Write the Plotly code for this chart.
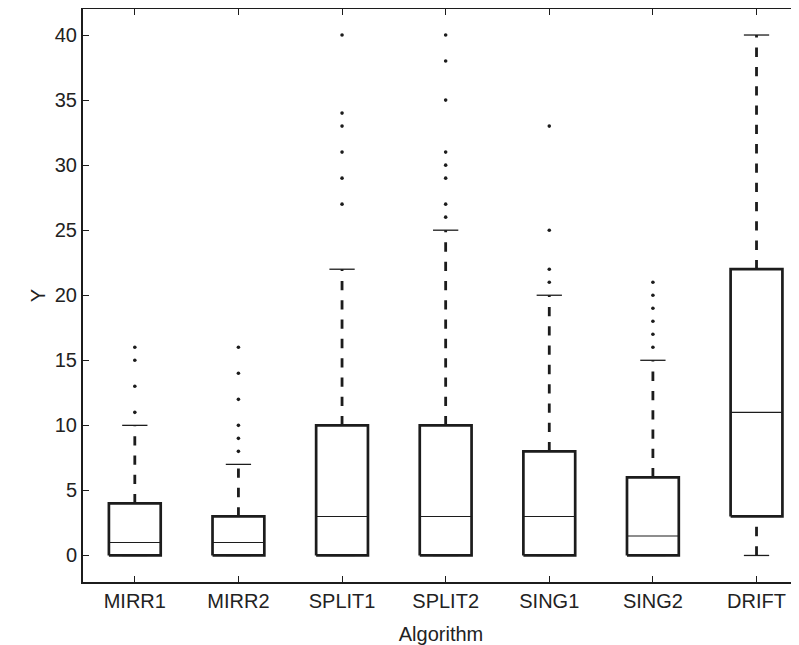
import plotly.graph_objects as go

categories = ["MIRR1", "MIRR2", "SPLIT1", "SPLIT2", "SING1", "SING2", "DRIFT"]
lower_whisker = [0, 0, 0, 0, 0, 0, 0]
q1 = [0, 0, 0, 0, 0, 0, 3]
median = [1, 1, 3, 3, 3, 1.5, 11]
q3 = [4, 3, 10, 10, 8, 6, 22]
upper_whisker = [10, 7, 22, 25, 20, 15, 40]
outliers = [
    [11, 13, 15, 16],
    [8, 9, 10, 12, 14, 16],
    [27, 29, 31, 33, 34, 40],
    [26, 27, 29, 30, 31, 35, 38, 40],
    [21, 22, 25, 33],
    [16, 17, 18, 19, 20, 21],
    [],
]
y_ticks = [0, 5, 10, 15, 20, 25, 30, 35, 40]

BOX_HW = 0.25
CAP_HW = 0.122
INK = "#1c1c1c"

pos = list(range(1, len(categories) + 1))

wx, wy = [], []
bx, by = [], []
mx, my = [], []
cx, cy = [], []
ox, oy = [], []
for p, lo, a, m, b, hi, outs in zip(pos, lower_whisker, q1, median, q3, upper_whisker, outliers):
    wx += [p, p, None]
    wy += [b, hi, None]
    if lo < a:
        wx += [p, p, None]
        wy += [lo, a, None]
    bx += [p - BOX_HW, p + BOX_HW, p + BOX_HW, p - BOX_HW, p - BOX_HW, None]
    by += [a, a, b, b, a, None]
    mx += [p - BOX_HW, p + BOX_HW, None]
    my += [m, m, None]
    cx += [p - CAP_HW, p + CAP_HW, None, p - CAP_HW, p + CAP_HW, None]
    cy += [hi, hi, None, lo, lo, None]
    for o in outs:
        ox.append(p)
        oy.append(o)

fig = go.Figure()
fig.add_trace(go.Scatter(x=wx, y=wy, mode="lines",
                         line=dict(color=INK, width=2.8, dash="9.3px,10px"),
                         hoverinfo="skip", showlegend=False))
fig.add_trace(go.Scatter(x=cx, y=cy, mode="lines",
                         line=dict(color=INK, width=1.3),
                         hoverinfo="skip", showlegend=False))
fig.add_trace(go.Scatter(x=bx, y=by, mode="lines",
                         line=dict(color=INK, width=2.7),
                         hoverinfo="skip", showlegend=False))
fig.add_trace(go.Scatter(x=mx, y=my, mode="lines",
                         line=dict(color=INK, width=1.1),
                         hoverinfo="skip", showlegend=False))
fig.add_trace(go.Scatter(x=ox, y=oy, mode="markers",
                         marker=dict(color=INK, size=3.6, symbol="circle"),
                         hoverinfo="skip", showlegend=False))

font = dict(family="Liberation Sans, Arial, Helvetica, sans-serif", size=20, color="#222222")

# page body has an 8px default margin; the figure is sized to compensate
fig.update_layout(
    width=791, height=637,
    margin=dict(l=75, r=0, t=1, b=63),
    paper_bgcolor="white", plot_bgcolor="white",
    font=font,
    xaxis=dict(
        range=[0.5, 7.41],
        tickmode="array", tickvals=pos, ticktext=categories,
        ticks="inside", ticklen=6, tickwidth=1, tickcolor=INK,
        showline=True, linecolor=INK, linewidth=2, mirror="ticks",
        showgrid=False, zeroline=False,
        title=dict(text="Algorithm", font=font, standoff=16),
    ),
    yaxis=dict(
        range=[-2.04, 42.0],
        tickmode="array", tickvals=y_ticks,
        ticks="inside", ticklen=6, tickwidth=1, tickcolor=INK,
        showline=True, linecolor=INK, linewidth=2, mirror=False,
        showgrid=False, zeroline=False,
        title=dict(text="Y", font=font, standoff=4),
    ),
)

fig.write_html("out.html")
